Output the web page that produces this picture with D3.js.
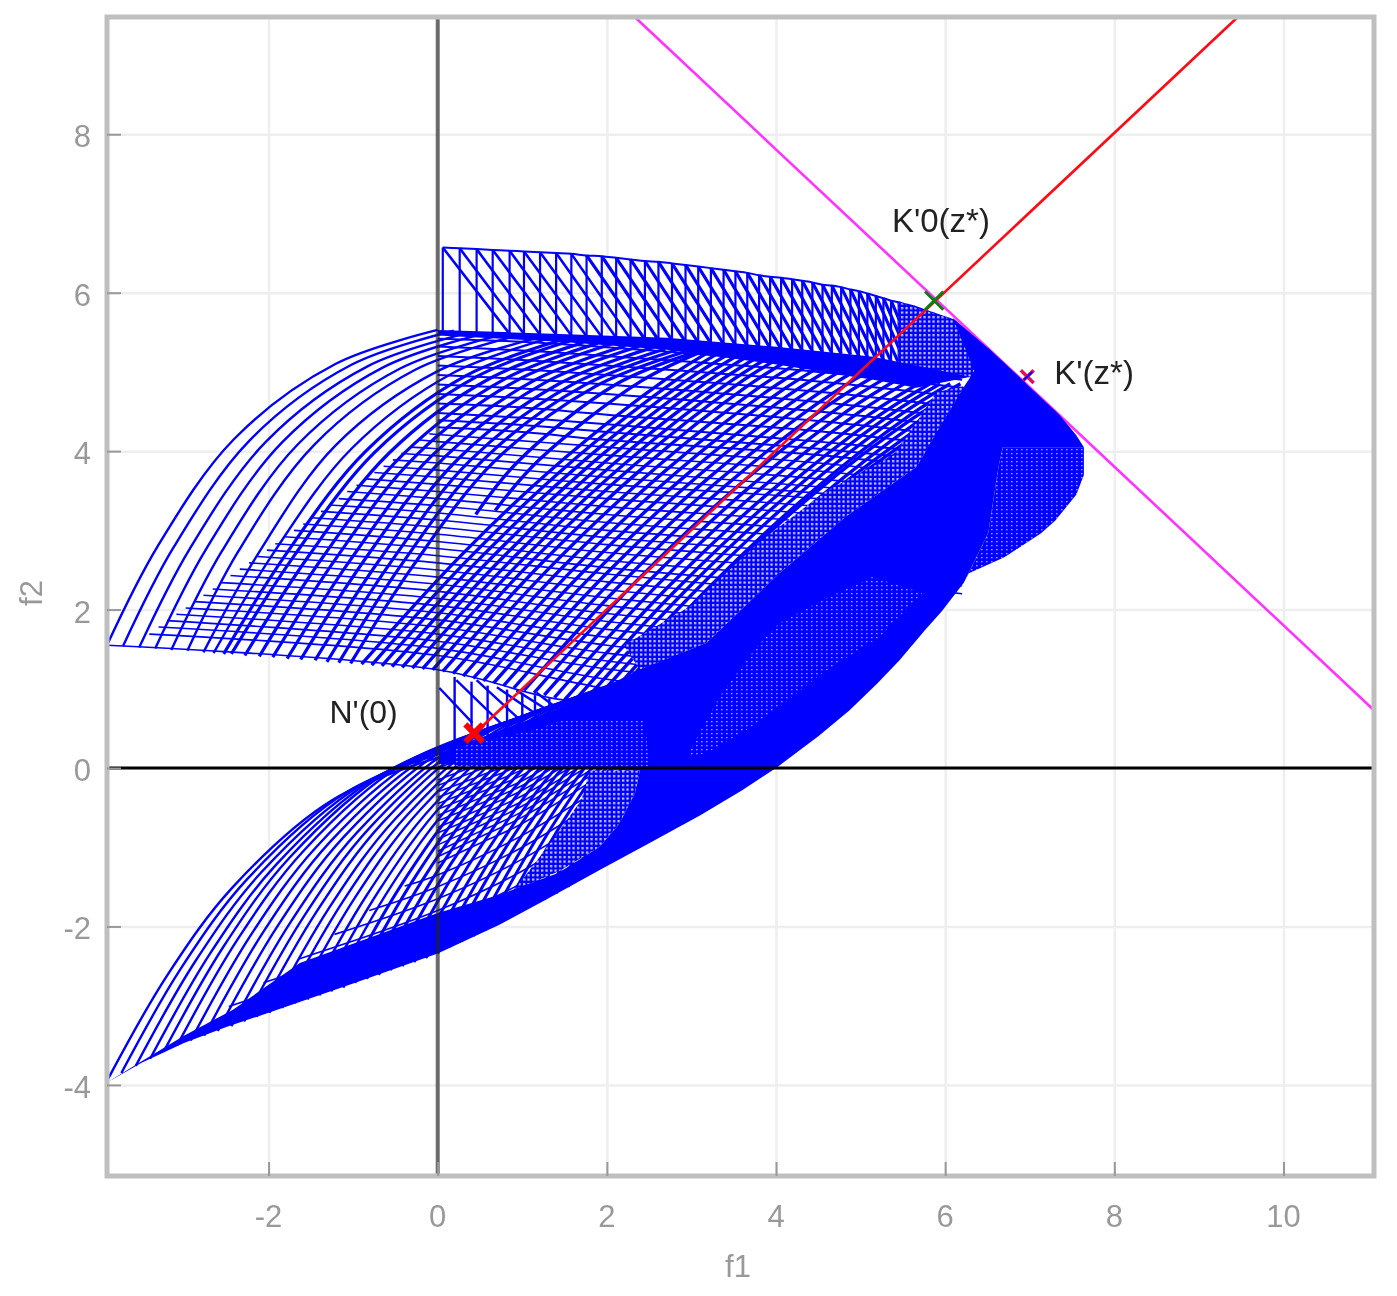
<!DOCTYPE html>
<html>
<head>
<meta charset="utf-8">
<script src="https://cdn.jsdelivr.net/npm/d3@7"></script>
<style>
html, body { margin: 0; background: #fff; }
svg { display: block; filter: blur(0.5px); }
text { font-family: "Liberation Sans", Arial, sans-serif; }
</style>
</head>
<body>
<script>
//tick labels
var xTicks = [-2, 0, 2, 4, 6, 8, 10];
var yTicks = [-4, -2, 0, 2, 4, 6, 8];

//straight lines
var tangentLine = [[2.33, 9.48], [11.07, 0.73]];
var rayLine = [[0.43, 0.43], [9.46, 9.48]];
var pointN = [0.43, 0.44];
var pointK0 = [5.87, 5.9];
var pointK = [6.97, 4.94];
var stubK = [[6.93, 4.9], [7.03, 5.0]];

//upper lobe, arcs that rise from the lower edge
var upperArcs = [
[[-3.91,1.55],[-3.31,2.80],[-2.41,4.15],[-1.21,5.10],[0,5.53]],
[[-3.72,1.54],[-3.12,2.79],[-2.22,4.14],[-1.02,5.09],[.19,5.52]],
[[-3.53,1.52],[-2.93,2.77],[-2.03,4.12],[-.83,5.07],[.38,5.50]],
[[-3.34,1.51],[-2.74,2.76],[-1.84,4.11],[-.64,5.06],[.57,5.49]],
[[-3.15,1.49],[-2.55,2.74],[-1.65,4.09],[-.45,5.04],[.76,5.47]],
[[-2.96,1.48],[-2.36,2.73],[-1.46,4.08],[-.26,5.03],[.95,5.46]],
[[-2.77,1.46],[-2.12,2.71],[-1.21,4.07],[0,5.01],[1.18,5.43]],
[[-2.65,1.45],[-1.95,2.70],[-1.02,4.03],[.17,4.98],[1.31,5.42]],
[[-2.53,1.44],[-1.80,2.69],[-.85,4.0],[.33,4.95],[1.45,5.40]],
[[-2.44,1.44],[-1.69,2.69],[-.74,3.99],[.46,4.94],[1.56,5.39]],
[[-2.28,1.42],[-1.53,2.67],[-.58,3.97],[.62,4.92],[1.72,5.37]],
[[-2.11,1.41],[-1.36,2.66],[-.41,3.96],[.79,4.91],[1.89,5.36]],
[[-1.95,1.40],[-1.20,2.65],[-.25,3.95],[.95,4.90],[2.05,5.35]],
[[-1.78,1.38],[-1.03,2.63],[-.08,3.93],[1.12,4.88],[2.22,5.33]],
[[-1.62,1.37],[-.87,2.62],[.08,3.92],[1.28,4.87],[2.38,5.32]],
[[-1.45,1.36],[-.70,2.61],[.25,3.91],[1.45,4.86],[2.55,5.31]],
[[-1.31,1.34],[-.56,2.59],[.39,3.89],[1.59,4.84],[2.69,5.29]],
[[-1.17,1.33],[-.42,2.58],[.53,3.88],[1.73,4.83],[2.83,5.28]],
[[-1.03,1.32],[-.28,2.57],[.67,3.87],[1.87,4.82],[2.97,5.27]],
[[.45,3.2],[.95,3.87],[2.12,4.85],[3.1,5.27]],
[[.68,3.25],[1.2,3.89],[2.4,4.88],[3.2,5.29]],
[[-.90,1.31],[.30,2.71],[1.50,3.91],[2.70,4.91],[3.30,5.31]],
[[-.78,1.30],[.42,2.70],[1.62,3.90],[2.82,4.90],[3.42,5.30]],
[[-.66,1.29],[.54,2.69],[1.74,3.89],[2.94,4.89],[3.54,5.29]],
[[-.54,1.28],[.66,2.68],[1.86,3.88],[3.06,4.88],[3.66,5.28]],
[[-.42,1.27],[.78,2.67],[1.98,3.87],[3.18,4.87],[3.78,5.27]],
[[-.30,1.26],[.90,2.66],[2.10,3.86],[3.30,4.86],[3.90,5.26]],
[[-.18,1.25],[1.02,2.65],[2.22,3.85],[3.42,4.85],[4.02,5.25]],
[[-.06,1.24],[1.14,2.64],[2.34,3.84],[3.54,4.84],[4.14,5.24]],
[[.06,1.22],[1.26,2.62],[2.46,3.82],[3.66,4.82],[4.26,5.22]],
[[.18,1.19],[1.38,2.59],[2.58,3.79],[3.78,4.79],[4.38,5.19]],
[[.30,1.16],[1.50,2.56],[2.70,3.76],[3.90,4.76],[4.50,5.16]],
[[.42,1.13],[1.62,2.53],[2.82,3.73],[4.02,4.73],[4.62,5.13]],
[[.54,1.10],[1.74,2.50],[2.94,3.70],[4.14,4.70],[4.74,5.10]],
[[.66,1.07],[1.86,2.47],[3.06,3.67],[4.26,4.67],[4.86,5.07]],
[[.78,1.04],[1.98,2.44],[3.18,3.64],[4.38,4.64],[4.98,5.04]],
[[.90,1.01],[2.10,2.41],[3.30,3.61],[4.50,4.61],[5.10,5.01]],
[[1.02,.98],[2.22,2.38],[3.42,3.58],[4.62,4.58],[5.22,4.98]],
[[1.14,.95],[2.34,2.35],[3.54,3.55],[4.74,4.55],[5.34,4.95]],
[[1.26,.92],[2.46,2.32],[3.66,3.52],[4.86,4.52],[5.46,4.92]],
[[1.38,.89],[2.58,2.29],[3.78,3.49],[4.98,4.49],[5.58,4.89]],
[[1.50,.86],[2.70,2.26],[3.90,3.46],[5.10,4.46],[5.70,4.86]],
[[1.62,.85],[2.82,2.25],[4.02,3.45],[5.22,4.45],[5.82,4.85]],
[[1.74,.85],[2.94,2.25],[4.14,3.45],[5.34,4.45],[5.94,4.85]],
[[1.86,.85],[3.06,2.25],[4.26,3.45],[5.46,4.45],[6.06,4.85]],
[[1.98,.85],[3.18,2.25],[4.38,3.45],[5.58,4.45],[6.18,4.85]],
[[2.10,.90],[3.22,2.25],[4.40,3.42],[5.60,4.40],[6.22,4.80]],
[[2.25,.95],[3.34,2.25],[4.50,3.40],[5.65,4.35],[6.25,4.75]],
[[2.45,1.1],[3.50,2.35],[4.60,3.42],[5.70,4.30],[6.28,4.70]],
[[2.7,1.3],[3.7,2.5],[4.72,3.47],[5.76,4.28],[6.30,4.66]],
[[2.95,1.5],[3.9,2.62],[4.85,3.52],[5.82,4.26],[6.33,4.62]],
[[3.2,1.7],[4.08,2.75],[4.97,3.57],[5.88,4.24],[6.35,4.58]],
[[3.45,1.95],[4.28,2.88],[5.10,3.62],[5.94,4.22],[6.38,4.54]],
[[3.75,2.2],[4.5,3.0],[5.25,3.67],[6.0,4.2],[6.4,4.5]]
];

//upper lobe, shallow rows that cross the arcs
var upperRows = [
[[-3.91,1.55],[0,1.24],[1.48,.86],[3,.8]],
[[-3.41,1.69],[0,1.42],[2,1.0],[4.5,.6]],
[[-3.3,1.78],[0,1.51],[2,1.12],[4.5,.8]],
[[-3.2,1.86],[0,1.6],[2,1.25],[4.5,1.0]],
[[-3.09,1.94],[0,1.69],[2,1.35],[4.5,1.1]],
[[-2.98,2.02],[0,1.78],[2,1.45],[4.5,1.2]],
[[-2.87,2.10],[0,1.87],[2,1.55],[4.5,1.3]],
[[-2.77,2.18],[0,1.96],[2,1.65],[4.5,1.4]],
[[-2.66,2.26],[0,2.05],[2,1.75],[4.5,1.5]],
[[-2.56,2.34],[0,2.14],[2,1.85],[4.5,1.6]],
[[-2.45,2.43],[0,2.23],[2,1.95],[4.5,1.7]],
[[-2.34,2.51],[0,2.32],[2,2.05],[4.5,1.8]],
[[-2.23,2.59],[0,2.41],[2,2.15],[4.5,1.9]],
[[-2.13,2.67],[0,2.5],[2,2.25],[4.5,2.0]],
[[-2.02,2.75],[0,2.59],[2,2.35],[4.5,2.1]],
[[-1.92,2.83],[0,2.68],[2,2.45],[4.5,2.2]],
[[-1.81,2.92],[0,2.77],[2,2.53],[4.5,2.3]],
[[-1.70,3.0],[0,2.86],[2,2.62],[4.5,2.4],[6.2,2.2]],
[[-1.59,3.08],[0,2.95],[2,2.72],[4.5,2.5],[6.2,2.3]],
[[-1.49,3.16],[0,3.04],[2,2.82],[4.5,2.6],[6.2,2.4]],
[[-1.38,3.24],[0,3.13],[2,2.91],[4.5,2.7],[6.2,2.5]],
[[-1.28,3.32],[0,3.22],[2,3.0],[4.5,2.8],[6.2,2.6]],
[[-1.17,3.40],[0,3.31],[2,3.1],[4.5,2.9],[6.2,2.7]],
[[-1.07,3.49],[0,3.4],[2,3.2],[4.5,3.0],[6.2,2.8]],
[[-.96,3.57],[0,3.49],[2,3.3],[4.5,3.1],[6.2,2.9]],
[[-.85,3.65],[0,3.58],[2,3.4],[4.5,3.2],[6.2,3.0]],
[[-.75,3.73],[0,3.67],[2,3.49],[4.5,3.3],[6.2,3.1]],
[[-.64,3.81],[0,3.76],[2,3.58],[4.5,3.4],[6.2,3.2]],
[[-.53,3.89],[0,3.85],[2,3.67],[4.5,3.47],[6.2,3.3]],
[[-.43,3.97],[0,3.94],[2,3.76],[4.5,3.55],[6.2,3.4]],
[[-.32,4.05],[0,4.03],[2,3.85],[4.5,3.65],[6.2,3.45]],
[[-.21,4.14],[0,4.12],[2,3.95],[4.5,3.75],[6.2,3.55]],
[[-.1,4.22],[0,4.21],[2,4.05],[4.5,3.85],[6.2,3.65]],
[[0,4.30],[1,4.24],[2,4.14],[4.5,3.95],[6.2,3.75]],
[[0,4.39],[1,4.33],[2,4.24],[4.5,4.03],[6.2,3.85]],
[[0,4.48],[1,4.42],[2,4.34],[4.5,4.12],[6.2,3.95]],
[[0,4.6],[1,4.55],[2,4.46],[4.5,4.25],[6.2,4.05]],
[[0,4.72],[1,4.67],[2,4.6],[4.5,4.38],[6.2,4.18]],
[[0,4.84],[1,4.79],[2,4.72],[4.5,4.5],[6.2,4.3]],
[[0,4.96],[1,4.91],[2,4.84],[4.5,4.62],[6.2,4.42]],
[[0,5.08],[1,5.03],[2,4.96],[4.5,4.75],[6.2,4.55]],
[[0,5.2],[1,5.15],[2,5.08],[4.5,4.88],[6.2,4.68]],
[[0,5.32],[1,5.27],[2,5.2],[4.5,5.0],[6.2,4.8]],
[[0,5.42],[1,5.38],[2,5.31],[4.5,5.1],[6.2,4.9]]
];

//lower lobe, arcs that rise from the lower edge
var lowerArcs = [
[[-3.91,-3.95],[-3.20,-2.62],[-2.42,-1.50],[-1.24,-.40],[0,.13]],
[[-3.74,-3.85],[-3.03,-2.52],[-2.25,-1.40],[-1.07,-.30],[.17,.23]],
[[-3.57,-3.76],[-2.86,-2.43],[-2.08,-1.31],[-.90,-.21],[.34,.32]],
[[-3.40,-3.67],[-2.69,-2.34],[-1.91,-1.22],[-.73,-.12],[.51,.41]],
[[-3.24,-3.58],[-2.53,-2.25],[-1.75,-1.13],[-.57,-.03],[.67,.50]],
[[-3.08,-3.50],[-2.37,-2.17],[-1.59,-1.05],[-.41,.05],[.83,.58]],
[[-2.92,-3.44],[-2.21,-2.11],[-1.43,-.99],[-.25,.11],[.99,.64]],
[[-2.76,-3.38],[-2.05,-2.05],[-1.27,-.93],[-.09,.17],[1.15,.70]],
[[-2.60,-3.32],[-1.89,-1.99],[-1.11,-.87],[.07,.23],[1.31,.76]],
[[-2.44,-3.26],[-1.73,-1.93],[-.95,-.81],[.23,.29],[1.47,.82]],
[[-2.29,-3.20],[-1.58,-1.87],[-.80,-.75],[.38,.35],[1.62,.88]],
[[-2.14,-3.14],[-1.43,-1.81],[-.65,-.69],[.53,.41],[1.77,.94]],
[[-1.99,-3.09],[-1.28,-1.76],[-.50,-.64],[.68,.46],[1.92,.99]],
[[-1.84,-3.03],[-1.13,-1.70],[-.35,-.58],[.83,.52],[2.07,1.05]],
[[-1.69,-2.97],[-.98,-1.64],[-.20,-.52],[.98,.58],[2.22,1.11]],
[[-1.54,-2.92],[-.83,-1.59],[-.05,-.47],[1.13,.63],[2.37,1.16]],
[[-1.40,-2.87],[-.69,-1.54],[.09,-.42],[1.27,.68],[2.51,1.21]],
[[-1.26,-2.82],[-.55,-1.49],[.23,-.37],[1.41,.73],[2.65,1.26]],
[[-1.12,-2.77],[-.41,-1.44],[.37,-.32],[1.55,.78],[2.79,1.31]],
[[-.98,-2.71],[-.27,-1.38],[.51,-.26],[1.69,.84],[2.93,1.37]],
[[-.84,-2.66],[-.13,-1.33],[.65,-.21],[1.83,.89],[3.07,1.42]],
[[-.70,-2.61],[.01,-1.28],[.79,-.16],[1.97,.94],[3.21,1.47]],
[[-.56,-2.55],[.15,-1.22],[.93,-.10],[2.11,1.0],[3.35,1.53]],
[[-.42,-2.50],[.29,-1.17],[1.07,-.05],[2.25,1.05],[3.49,1.58]],
[[-.28,-2.45],[.43,-1.12],[1.21,0],[2.39,1.10],[3.63,1.63]],
[[-.14,-2.40],[.57,-1.07],[1.35,.05],[2.53,1.15],[3.77,1.68]],
[[0,-2.34],[.71,-1.01],[1.49,.11],[2.67,1.21],[3.91,1.74]],
[[.14,-2.26],[.85,-.93],[1.63,.19],[2.81,1.29],[4.05,1.82]],
[[.28,-2.19],[.99,-.86],[1.77,.26],[2.95,1.36],[4.19,1.89]],
[[.42,-2.12],[1.13,-.79],[1.91,.33],[3.09,1.43],[4.33,1.96]],
[[.56,-2.05],[1.27,-.72],[2.05,.40],[3.23,1.5],[4.47,2.03]],
[[.70,-1.97],[1.41,-.64],[2.19,.48],[3.37,1.58],[4.61,2.11]],
[[.84,-1.89],[1.55,-.56],[2.33,.56],[3.51,1.66],[4.75,2.19]],
[[.98,-1.81],[1.69,-.48],[2.47,.64],[3.65,1.74],[4.89,2.27]],
[[1.12,-1.73],[1.83,-.40],[2.61,.72],[3.79,1.82],[5.03,2.35]],
[[1.26,-1.66],[1.97,-.33],[2.75,.79],[3.93,1.89],[5.17,2.42]],
[[1.40,-1.58],[2.11,-.25],[2.89,.87],[4.07,1.97],[5.31,2.5]],
[[1.54,-1.50],[2.25,-.17],[3.03,.95],[4.21,2.05],[5.45,2.58]]
];

//lower lobe, rows that cross the arcs
var lowerRows = [
[[-2.47,-3.01],[0,-2.1],[1,-1.6],[2.5,-.6]],
[[-2.06,-2.71],[0,-1.95],[1,-1.45],[2.5,-.45]],
[[-1.64,-2.41],[0,-1.8],[1,-1.3],[2.5,-.3]],
[[-1.22,-2.10],[0,-1.65],[1,-1.15],[2.5,-.15]],
[[-.81,-1.80],[0,-1.5],[1,-1.0],[2.5,0]],
[[-.39,-1.49],[0,-1.35],[1,-.85],[2.5,.15]],
[[0,-1.2],[.5,-.95],[1,-.7],[2.5,.3]],
[[0,-1.12],[.5,-.87],[1,-.62],[2.5,.38]],
[[0,-1.05],[.5,-.8],[1,-.55],[2.5,.45]],
[[0,-.97],[.5,-.73],[1,-.48],[2.5,.52]],
[[0,-.9],[.5,-.66],[1,-.42],[2.5,.58]],
[[0,-.82],[.5,-.59],[1,-.35],[2.5,.64]],
[[0,-.75],[.5,-.52],[1,-.28],[2.5,.7]],
[[0,-.67],[.5,-.45],[1,-.22],[2.5,.76]],
[[0,-.6],[.5,-.38],[1,-.16],[2.5,.82]],
[[0,-.52],[.5,-.31],[1,-.09],[2.5,.88]],
[[0,-.45],[.5,-.24],[1,-.02],[2.5,.94]],
[[0,-.37],[.5,-.17],[1,.05],[2.5,1.0]],
[[0,-.3],[.5,-.1],[1,.12],[2.5,1.06]],
[[0,-.22],[.5,-.02],[1,.19],[2.5,1.13]],
[[0,-.15],[.5,.05],[1,.26],[2.5,1.2]],
[[0,0],[.5,.2],[1,.42],[2.5,1.3]]
];

//top band between the two upper edges
var bandX = [.06,.26,.46,.65,.85,1.02,1.21,1.40,1.58,1.76,1.94,2.11,2.28,2.45,2.61,2.77,2.93,3.08,3.23,3.38,3.52,3.66,3.80,3.93,4.06,4.19,4.31,4.43,4.55,4.66,4.77,4.88,4.98,5.08,5.18,5.27,5.36,5.45,5.54,5.62,5.70,5.78,5.86,5.94,6.02,6.10,6.18,6.26,6.34];
var bandTop = [6.57,6.56,6.55,6.54,6.53,6.52,6.51,6.50,6.49,6.47,6.46,6.44,6.42,6.40,6.39,6.37,6.35,6.33,6.31,6.29,6.27,6.25,6.22,6.20,6.19,6.17,6.15,6.13,6.10,6.09,6.07,6.04,6.02,5.99,5.96,5.93,5.90,5.88,5.85,5.83,5.80,5.77,5.74,5.71,5.68,5.65,5.55,5.47,5.40];
var bandBottom = [5.50,5.50,5.49,5.49,5.48,5.48,5.47,5.47,5.46,5.45,5.44,5.43,5.42,5.41,5.40,5.40,5.38,5.37,5.36,5.35,5.34,5.33,5.31,5.30,5.29,5.28,5.27,5.26,5.25,5.24,5.23,5.22,5.20,5.19,5.17,5.15,5.13,5.11,5.09,5.07,5.05,5.03,5.02,5.00,4.98,4.96,4.95,4.94,4.92];

//small notch above the lower lobe
var notchX = [.2,.4,.59,.82,1.0,1.15,1.32];
var notchTop = [1.15,1.09,1.04,.99,.95,.92,.88];
var notchBottom = [.24,.32,.40,.50,.58,.64,.72];
var notchDiagonals = [
[[.02,1.01],[.41,.57]], [[.22,1.11],[.79,.52]], [[.46,1.11],[.97,.61]],
[[.70,1.02],[1.15,.69]], [[.93,.98],[1.30,.73]], [[1.17,.95],[1.44,.73]]
];

//areas where the lines merge into solid blue
var solidMain = [[-3.91,-3.97],[-3.5,-3.72],[-3,-3.47],[-2.5,-3.27],[-2,-3.09],[-1,-2.72],[0,-2.34],[.73,-1.98],[1.3,-1.65],[1.91,-1.29],[2.5,-.95],[3.1,-.6],[3.6,-.28],[4,0],[4.5,.4],[4.87,.73],[5.2,1.07],[5.46,1.36],[5.76,1.74],[5.96,1.98],[6.22,2.34],[6.51,2.97],[6.63,3.8],[6.68,4.05],[7.64,4.05],[7.55,4.2],[7.35,4.46],[6.93,4.88],[6.51,5.3],[6.3,4.94],[6.22,4.81],[5.66,3.8],[4.82,3.17],[4.04,2.46],[3.18,1.58],[2.39,1.24],[1.48,.77],[.02,.19],[0,.05],[2.39,-.03],[2.34,-.3],[2.15,-.7],[1.91,-1.0],[1.44,-1.32],[.73,-1.6],[0,-1.83],[-1.63,-2.46],[-2.42,-3.05],[-3,-3.38],[-3.5,-3.7]];
var solidStrip = [[0,5.53],[1.44,5.48],[2.71,5.43],[3.97,5.32],[5.15,5.19],[6.3,4.94],[5.66,4.8],[5.15,4.9],[3.97,5.1],[2.71,5.28],[1.44,5.38],[0,5.46]];
var solidTip = [[6.09,5.68],[6.51,5.3],[6.93,4.88],[7.0,4.6],[6.6,4.7],[6.35,5.0]];
var speckleLens = [[2.94,.14],[3.33,.90],[3.77,1.53],[4.04,1.83],[4.55,2.12],[5.14,2.41],[5.73,2.21],[5.22,1.65],[4.55,1.20],[4.04,.77],[3.65,.48],[3.18,.19]];
var speckleRight = [[6.68,4.05],[7.64,4.05],[7.64,3.7],[7.55,3.45],[7.3,3.12],[7.13,2.96],[6.7,2.66],[6.28,2.46],[6.22,2.34],[6.51,2.97],[6.63,3.8]];
var speckleFoot = [[1.2,.5],[1.5,.62],[2.45,.62],[2.5,.02],[.2,.02],[.2,.25]];
var speckleBandEnd = [[5.45,5.88],[6.09,5.66],[6.35,5.4],[6.35,4.92],[5.45,5.1]];
var speckleCavity = [[.9,-1.55],[1.44,-1.3],[1.91,-1.0],[2.15,-.7],[2.34,-.3],[2.39,-.03],[1.8,-.03],[1.7,-.4],[1.4,-.85]];
var speckleFringe = [[2.39,1.24],[3.18,1.58],[4.04,2.46],[4.82,3.17],[5.66,3.8],[6.22,4.81],[5.9,4.75],[5.4,3.95],[4.6,3.5],[3.8,2.85],[3.0,2.05],[2.2,1.55]];

//Width and height
var w = 1397;
var h = 1296;
var left = 107, right = 1374, top_ = 17, bottom = 1176;

var x = d3.scaleLinear().domain([-3.91, 11.07]).range([left, right]);
var y = d3.scaleLinear().domain([-5.15, 9.48]).range([bottom, top_]);

var svg = d3.select("body")
            .append("svg")
            .attr("width", w)
            .attr("height", h);

//speckle patterns for the areas that are almost solid
var defs = svg.append("defs");
var pattern = defs.append("pattern")
   .attr("id", "speckle")
   .attr("patternUnits", "userSpaceOnUse")
   .attr("width", 5)
   .attr("height", 4);
pattern.append("rect").attr("width", 5).attr("height", 4).attr("fill", "#0000ff");
pattern.append("rect").attr("x", 1).attr("y", 1).attr("width", 1.6).attr("height", 1.3).attr("fill", "#9a9aff");
var patternLight = defs.append("pattern")
   .attr("id", "speckleLight")
   .attr("patternUnits", "userSpaceOnUse")
   .attr("width", 4.5)
   .attr("height", 4.5);
patternLight.append("rect").attr("width", 4.5).attr("height", 4.5).attr("fill", "#0000ff");
patternLight.append("rect").attr("x", 1).attr("y", 1).attr("width", 2.2).attr("height", 2.2).attr("fill", "#d8d8ff");

//grid lines
var gridX = svg.append("g")
   .attr("transform", "translate(0," + bottom + ")")
   .call(d3.axisBottom(x).tickValues(xTicks).tickSize(-(bottom - top_)).tickFormat(""));
gridX.select(".domain").remove();
gridX.selectAll("line").attr("stroke", "#eeeeee").attr("stroke-width", 2.5);

var gridY = svg.append("g")
   .attr("transform", "translate(" + left + ",0)")
   .call(d3.axisLeft(y).tickValues(yTicks).tickSize(-(right - left)).tickFormat(""));
gridY.select(".domain").remove();
gridY.selectAll("line").attr("stroke", "#eeeeee").attr("stroke-width", 2.5);

var line = d3.line()
   .x(function(d) { return x(d[0]); })
   .y(function(d) { return y(d[1]); });
var smooth = d3.line()
   .x(function(d) { return x(d[0]); })
   .y(function(d) { return y(d[1]); })
   .curve(d3.curveCatmullRom);

//tangent goes under the blue mesh
svg.append("path").attr("d", line(tangentLine))
   .attr("fill", "none").attr("stroke", "#ff33ff").attr("stroke-width", 2.6);

//marker K'(z*), mostly hidden by the mesh
svg.append("path")
   .attr("d", d3.symbol().type(d3.symbolTimes).size(110))
   .attr("transform", "translate(" + x(pointK[0]) + "," + y(pointK[1]) + ")")
   .attr("fill", "none").attr("stroke", "#e0105a").attr("stroke-width", 3.5);

var mesh = svg.append("g").attr("fill", "none").attr("stroke", "#0000ff").attr("stroke-width", 2.4);

//arcs get heavier where they pack together
mesh.selectAll(".arcU").data(upperArcs).enter().append("path")
   .attr("class", "arcU")
   .attr("stroke-width", function(d, i) { return i < 8 ? 2.4 : (i < 19 ? 3.2 : 3.4); })
   .attr("d", function(d) { return smooth(d); });
mesh.selectAll(".rowU").data(upperRows).enter().append("path")
   .attr("class", "rowU")
   .attr("stroke-width", function(d, i) { return i < 33 ? 1.6 : 2; })
   .attr("d", function(d) { return smooth(d); });
mesh.selectAll(".arcL").data(lowerArcs).enter().append("path")
   .attr("class", "arcL")
   .attr("stroke-width", function(d, i) { return i < 18 ? 2.4 : 3; })
   .attr("d", function(d) { return smooth(d); });
mesh.selectAll(".rowL").data(lowerRows).enter().append("path")
   .attr("class", "rowL").attr("stroke-width", 1.6).attr("d", function(d) { return smooth(d); });

//top band: verticals, then diagonals joining a top point to the bottom four steps on
mesh.selectAll(".bandV").data(bandX).enter().append("line")
   .attr("class", "bandV")
   .attr("stroke-width", 2.2)
   .attr("x1", function(d) { return x(d); })
   .attr("x2", function(d) { return x(d); })
   .attr("y1", function(d, i) { return y(bandTop[i]); })
   .attr("y2", function(d, i) { return y(bandBottom[i]); });
mesh.selectAll(".bandD").data(bandX.slice(0, bandX.length - 4)).enter().append("line")
   .attr("class", "bandD")
   .attr("stroke-width", function(d, i) { return i < 9 ? 2.6 : 3.2; })
   .attr("x1", function(d) { return x(d); })
   .attr("y1", function(d, i) { return y(bandTop[i]); })
   .attr("x2", function(d, i) { return x(bandX[i + 4]); })
   .attr("y2", function(d, i) { return y(bandBottom[i + 4]); });
mesh.append("path")
   .attr("d", smooth(bandX.map(function(d, i) { return [d, bandTop[i]]; })))
   .attr("stroke-width", 2);

//notch
mesh.selectAll(".notchV").data(notchX).enter().append("line")
   .attr("class", "notchV")
   .attr("x1", function(d) { return x(d); })
   .attr("x2", function(d) { return x(d); })
   .attr("y1", function(d, i) { return y(notchTop[i]); })
   .attr("y2", function(d, i) { return y(notchBottom[i]); });
mesh.selectAll(".notchD").data(notchDiagonals).enter().append("path")
   .attr("class", "notchD").attr("d", function(d) { return line(d); });

//solid areas
[speckleBandEnd, speckleFringe, speckleCavity].forEach(function(area) {
  svg.append("path").attr("d", line(area) + "Z").attr("fill", "url(#speckleLight)");
});
[solidMain, solidStrip, solidTip].forEach(function(area) {
  svg.append("path").attr("d", line(area) + "Z").attr("fill", "#0000ff");
});
[speckleLens, speckleRight, speckleFoot].forEach(function(area) {
  svg.append("path").attr("d", line(area) + "Z").attr("fill", "url(#speckle)");
});

//axes through the origin
svg.append("line")
   .attr("x1", x(0)).attr("x2", x(0)).attr("y1", top_).attr("y2", bottom)
   .attr("stroke", "#222222").attr("stroke-opacity", 0.65).attr("stroke-width", 4);
svg.append("line")
   .attr("x1", left).attr("x2", right).attr("y1", y(0)).attr("y2", y(0))
   .attr("stroke", "#000000").attr("stroke-width", 3);

//ray through the points
svg.append("path").attr("d", line(rayLine))
   .attr("fill", "none").attr("stroke", "#ff0a14").attr("stroke-width", 2.6);

//markers
svg.append("path")
   .attr("d", d3.symbol().type(d3.symbolTimes).size(200))
   .attr("transform", "translate(" + x(pointN[0]) + "," + y(pointN[1]) + ")")
   .attr("fill", "none").attr("stroke", "#ff0000").attr("stroke-width", 6);
svg.append("path")
   .attr("d", d3.symbol().type(d3.symbolTimes).size(220))
   .attr("transform", "translate(" + x(pointK0[0]) + "," + y(pointK0[1]) + ")")
   .attr("fill", "none").attr("stroke", "#0b7d12").attr("stroke-width", 3);
svg.append("path").attr("d", line(stubK))
   .attr("fill", "none").attr("stroke", "#0000ff").attr("stroke-width", 2);

//frame and ticks
svg.append("rect")
   .attr("x", left).attr("y", top_)
   .attr("width", right - left).attr("height", bottom - top_)
   .attr("fill", "none").attr("stroke", "#bfbfbf").attr("stroke-width", 5);

var tickX = svg.append("g")
   .attr("transform", "translate(0," + bottom + ")")
   .call(d3.axisBottom(x).tickValues(xTicks).tickSize(-14).tickFormat(""));
tickX.select(".domain").remove();
tickX.selectAll("line").attr("stroke", "#999999").attr("stroke-width", 2);

var tickY = svg.append("g")
   .attr("transform", "translate(" + left + ",0)")
   .call(d3.axisLeft(y).tickValues(yTicks).tickSize(-14).tickFormat(""));
tickY.select(".domain").remove();
tickY.selectAll("line").attr("stroke", "#999999").attr("stroke-width", 2);

//tick labels
svg.selectAll(".xLabel").data(xTicks).enter().append("text")
   .attr("class", "xLabel")
   .text(function(d) { return d; })
   .attr("x", function(d) { return x(d); })
   .attr("y", 1227)
   .attr("text-anchor", "middle")
   .attr("font-size", "31px")
   .attr("fill", "#999999");
svg.selectAll(".yLabel").data(yTicks).enter().append("text")
   .attr("class", "yLabel")
   .text(function(d) { return d; })
   .attr("x", 91)
   .attr("y", function(d) { return y(d) + 13; })
   .attr("text-anchor", "end")
   .attr("font-size", "31px")
   .attr("fill", "#999999");

//axis names
svg.append("text").text("f1")
   .attr("x", 738).attr("y", 1277)
   .attr("text-anchor", "middle").attr("font-size", "31px").attr("fill", "#999999");
svg.append("text").text("f2")
   .attr("transform", "translate(42,593) rotate(-90)")
   .attr("text-anchor", "middle").attr("font-size", "31px").attr("fill", "#999999");

//annotations
svg.append("text").text("K'0(z*)")
   .attr("x", x(5.37)).attr("y", y(6.76)).attr("font-size", "33px").attr("fill", "#222222");
svg.append("text").text("K'(z*)")
   .attr("x", x(7.29)).attr("y", y(4.85)).attr("font-size", "33px").attr("fill", "#222222");
svg.append("text").text("N'(0)")
   .attr("x", x(-1.28)).attr("y", y(0.57)).attr("font-size", "32px").attr("fill", "#222222");
</script>
</body>
</html>
